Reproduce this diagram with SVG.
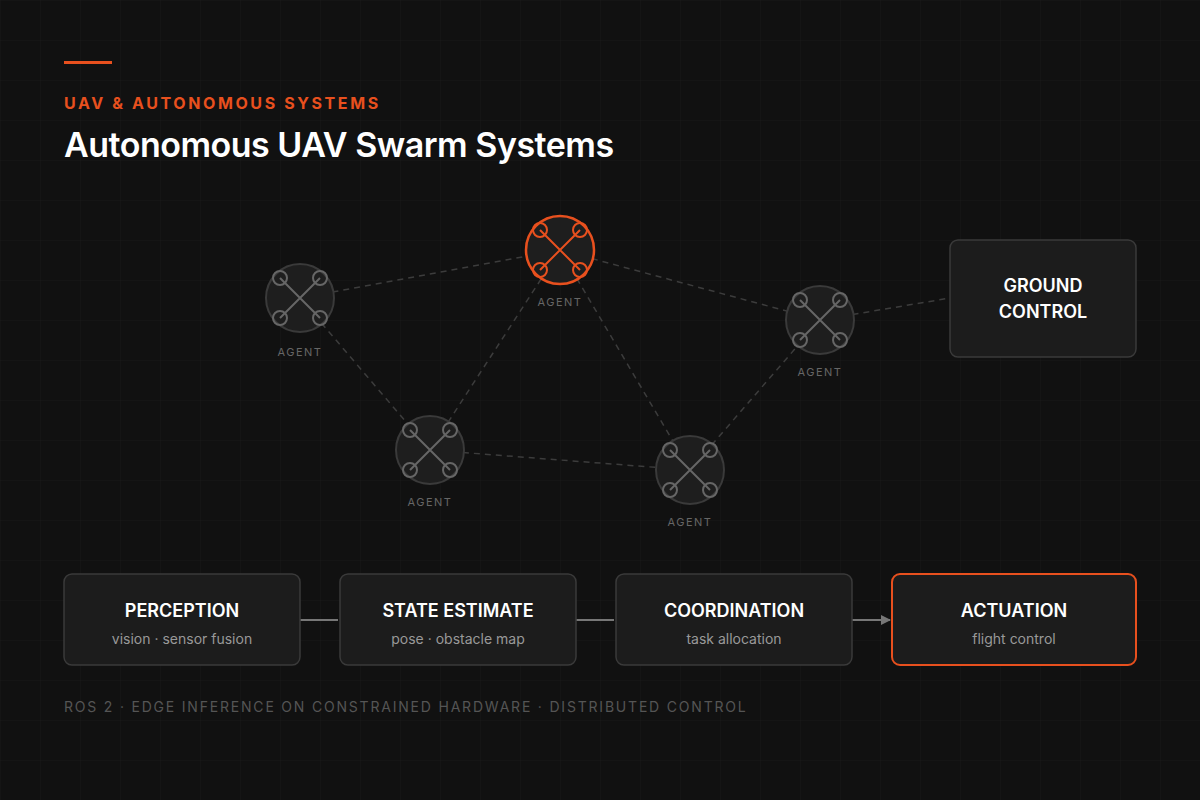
<svg xmlns="http://www.w3.org/2000/svg" width="1200" height="800" viewBox="0 0 1200 800">
<defs>
<pattern id="grid" width="40" height="40" patternUnits="userSpaceOnUse"><path d="M40 0H0V40" fill="none" stroke="#1a1a1a" stroke-width="1"/></pattern>
<marker id="arr" viewBox="0 0 10 10" refX="9" refY="5" markerWidth="10" markerHeight="10" markerUnits="userSpaceOnUse" orient="auto"><path d="M0 0L10 5L0 10z" fill="#777"/></marker>
<g id="quad"><path d="M-20 -20L20 20M20 -20L-20 20" stroke-width="2"/><circle cx="-20" cy="-20" r="7" fill="none" stroke-width="2"/><circle cx="20" cy="-20" r="7" fill="none" stroke-width="2"/><circle cx="-20" cy="20" r="7" fill="none" stroke-width="2"/><circle cx="20" cy="20" r="7" fill="none" stroke-width="2"/></g>
</defs>
<style>
text{font-family:Inter,"Noto Sans",sans-serif}
.lab{font-size:11px;fill:#666;letter-spacing:1.5px;text-anchor:middle}
.ag{fill:#1e1e1e;stroke:#3a3a3a;stroke-width:2}
.box{fill:#1c1c1c;stroke:#3a3a3a;stroke-width:1.5}
.t{font-size:18px;font-weight:600;fill:#fff;text-anchor:middle}
.s{font-size:14px;fill:#999;text-anchor:middle}
.e{stroke:#3c3c3c;stroke-width:1.5;stroke-dasharray:6 5;fill:none}
</style>
<rect width="1200" height="800" fill="#111"/>
<rect width="1200" height="800" fill="url(#grid)"/>
<rect x="64" y="61" width="48" height="3" fill="#e8501e"/>
<text x="64" y="109" font-size="16" font-weight="700" fill="#e8501e" letter-spacing="2.6">UAV &amp; AUTONOMOUS SYSTEMS</text>
<text x="64" y="157" font-size="34" font-weight="600" fill="#fff" letter-spacing="-0.5">Autonomous UAV Swarm Systems</text>
<g id="connectors">
<path class="e" d="M300 298L560 250M560 250L820 320M820 320L950 298M300 298L430 450M430 450L560 250M560 250L690 470M430 450L690 470M690 470L820 320"/>
<path d="M300 620H338M576 620H614M852 620H890" stroke="#777" stroke-width="2" marker-end="url(#arr)"/>
</g>
<g id="agent1"><circle class="ag" cx="300" cy="298" r="34"/><use href="#quad" x="300" y="298" stroke="#666"/><text class="lab" x="300" y="356">AGENT</text></g>
<g id="agent2"><circle cx="560" cy="250" r="34" fill="#1e1e1e" stroke="#e8501e" stroke-width="2.5"/><use href="#quad" x="560" y="250" stroke="#e8501e"/><text class="lab" x="560" y="306">AGENT</text></g>
<g id="agent3"><circle class="ag" cx="820" cy="320" r="34"/><use href="#quad" x="820" y="320" stroke="#666"/><text class="lab" x="820" y="376">AGENT</text></g>
<g id="agent4"><circle class="ag" cx="430" cy="450" r="34"/><use href="#quad" x="430" y="450" stroke="#666"/><text class="lab" x="430" y="506">AGENT</text></g>
<g id="agent5"><circle class="ag" cx="690" cy="470" r="34"/><use href="#quad" x="690" y="470" stroke="#666"/><text class="lab" x="690" y="526">AGENT</text></g>
<g id="ground"><rect class="box" x="950" y="240" width="186" height="117" rx="8"/><text class="t" x="1043" y="292" font-size="16">GROUND</text><text class="t" x="1043" y="318" font-size="16">CONTROL</text></g>
<g id="perception"><rect class="box" x="64" y="574" width="236" height="91" rx="8"/><text class="t" x="182" y="617">PERCEPTION</text><text class="s" x="182" y="644">vision · sensor fusion</text></g>
<g id="state"><rect class="box" x="340" y="574" width="236" height="91" rx="8"/><text class="t" x="458" y="617">STATE ESTIMATE</text><text class="s" x="458" y="644">pose · obstacle map</text></g>
<g id="coord"><rect class="box" x="616" y="574" width="236" height="91" rx="8"/><text class="t" x="734" y="617">COORDINATION</text><text class="s" x="734" y="644">task allocation</text></g>
<g id="act"><rect x="892" y="574" width="244" height="91" rx="8" fill="#1c1c1c" stroke="#e8501e" stroke-width="2"/><text class="t" x="1014" y="617">ACTUATION</text><text class="s" x="1014" y="644">flight control</text></g>
<text x="64" y="712" font-size="14" fill="#555" letter-spacing="1.8">ROS 2 · EDGE INFERENCE ON CONSTRAINED HARDWARE · DISTRIBUTED CONTROL</text>
</svg>
